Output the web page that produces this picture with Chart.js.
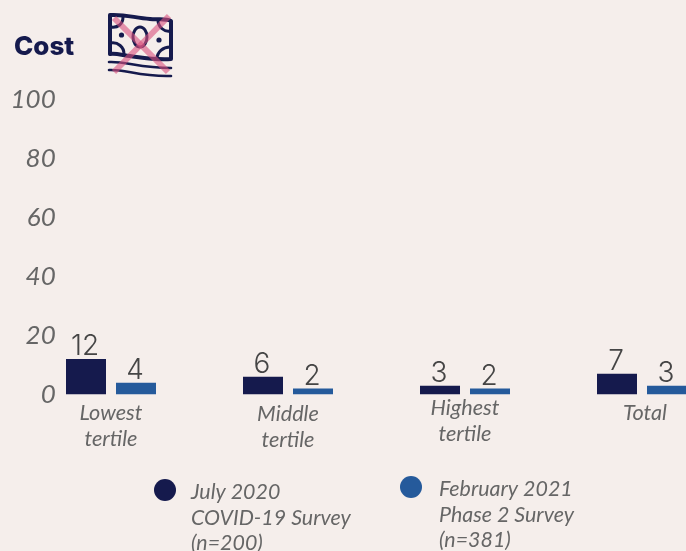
<!DOCTYPE html>
<html>
<head>
<meta charset="utf-8">
<title>Cost</title>
<script src="https://cdn.jsdelivr.net/npm/chart.js@4/dist/chart.umd.min.js"></script>
<style>
    html, body { margin: 0; padding: 0; width: 686px; height: 551px; overflow: hidden; background: #f5eeeb; }
    #wrap { position: relative; width: 686px; height: 551px; overflow: hidden; }
    #costChart { position: absolute; left: 0; top: 0; }
    #costIcon { position: absolute; left: 100px; top: 5px; }
</style>
</head>
<body>
<div id="wrap">
    <canvas id="costChart" width="740" height="551"></canvas>
    <svg id="costIcon" width="80" height="80" viewBox="100 5 80 80">
        <g fill="none" stroke="#151a4d" stroke-width="2.6" stroke-linecap="round" stroke-linejoin="round">
            <!-- banknote -->
            <path d="M110 15 C125 14 135 18 150 19 C158 20 165 18 171 21 L171 59 C155 60 145 58 130 56 C122 55 115 53 110 54 Z" stroke-width="4"/>
            <path d="M111 27 C118 28 123 24 123 17" stroke-width="3"/>
            <path d="M158 20 C158 27 164 32 170 31" stroke-width="3"/>
            <path d="M111 43 C118 42 124 47 124 54" stroke-width="3"/>
            <path d="M157 59 C157 52 163 47 170 47" stroke-width="3"/>
            <ellipse cx="140" cy="37" rx="7" ry="10" stroke-width="3"/>
            <path d="M109 62 C125 61 140 68 171 68"/>
            <path d="M109 70 C125 69 140 77 171 76"/>
        </g>
        <circle cx="121.5" cy="35" r="2.6" fill="#151a4d"/>
        <circle cx="159" cy="40" r="2.6" fill="#151a4d"/>
        <g stroke="#d9527f" stroke-opacity="0.6" stroke-width="6">
            <path d="M114 18 L168 72"/>
            <path d="M169 16 L114 72"/>
        </g>
    </svg>
</div>
<script>
// values shown on the chart
const categories = [['Lowest', 'tertile'], ['Middle', 'tertile'], ['Highest', 'tertile'], ['Total']];
const july2020 = [12, 6, 3, 7];
const february2021 = [4, 2, 2, 3];
const seriesNames = [
    ['July 2020', 'COVID-19 Survey', '(n=200)'],
    ['February 2021', 'Phase 2 Survey', '(n=381)']
];

const navy = '#151a4d';
const blue = '#255a9b';

// first line baseline of each category label, in pixels
const categoryLabelY = [420, 421, 415, 420];

const ctx = document.getElementById('costChart').getContext('2d');

// text that sits outside the normal axis and legend layout
const annotations = {
    id: 'annotations',
    afterDatasetsDraw(chart) {
        const c = chart.ctx;
        const xScale = chart.scales.x;
        c.save();

        // numbers above the bars
        c.font = '300 28px Inter';
        c.fillStyle = '#454545';
        c.textAlign = 'center';
        c.textBaseline = 'alphabetic';
        chart.data.datasets.forEach(function (ds, i) {
            chart.getDatasetMeta(i).data.forEach(function (bar, j) {
                c.fillText(ds.data[j], bar.x - 1, bar.y - 4);
            });
        });

        // category labels, the rows do not share one baseline
        c.font = 'italic 21.7px Lato';
        c.fillStyle = '#666666';
        categories.forEach(function (lines, i) {
            const x = xScale.getPixelForValue(i) + (i === 3 ? 3 : 0);
            lines.forEach(function (line, k) {
                c.fillText(line, x, categoryLabelY[i] + k * 25.5);
            });
        });

        // title
        c.font = '800 26px Inter';
        c.fillStyle = navy;
        c.textAlign = 'left';
        c.fillText('Cost', 14, 55);

        // legend
        const legend = [
            { color: navy, dotX: 165, dotY: 490, textX: 191, textY: 499 },
            { color: blue, dotX: 411, dotY: 487, textX: 439, textY: 496 }
        ];
        c.font = 'italic 21.4px Lato';
        legend.forEach(function (item, i) {
            c.fillStyle = item.color;
            c.beginPath();
            c.arc(item.dotX, item.dotY, 11, 0, Math.PI * 2);
            c.fill();
            c.fillStyle = '#666666';
            seriesNames[i].forEach(function (line, k) {
                c.fillText(line, item.textX, item.textY + k * 25.5);
            });
        });
        c.restore();
    }
};

const costChart = new Chart(ctx, {
    type: 'bar',
    data: {
        labels: categories,
        datasets: [{
            label: seriesNames[0].join(' '),
            data: july2020,
            backgroundColor: navy,
            categoryPercentage: 100 / 177,
            barPercentage: 0.8
        }, {
            label: seriesNames[1].join(' '),
            data: february2021,
            backgroundColor: blue,
            categoryPercentage: 100 / 177,
            barPercentage: 0.8
        }]
    },
    options: {
        responsive: false,
        animation: false,
        layout: {
            padding: { left: 0, right: 9.5, top: 99.5, bottom: 156.5 }
        },
        plugins: {
            legend: { display: false },
            tooltip: { enabled: false }
        },
        scales: {
            x: {
                display: false
            },
            y: {
                min: 0,
                max: 100,
                border: { display: false },
                grid: { display: false, drawTicks: false },
                // labels sit over the plot area, to the right of its left edge
                afterFit(axis) {
                    axis.width = 22.5;
                },
                ticks: {
                    stepSize: 20,
                    mirror: true,
                    crossAlign: 'far',
                    padding: -12,
                    color: '#666666',
                    font: { family: 'Lato', style: 'italic', size: 26 }
                }
            }
        }
    },
    plugins: [annotations]
});
</script>
</body>
</html>
